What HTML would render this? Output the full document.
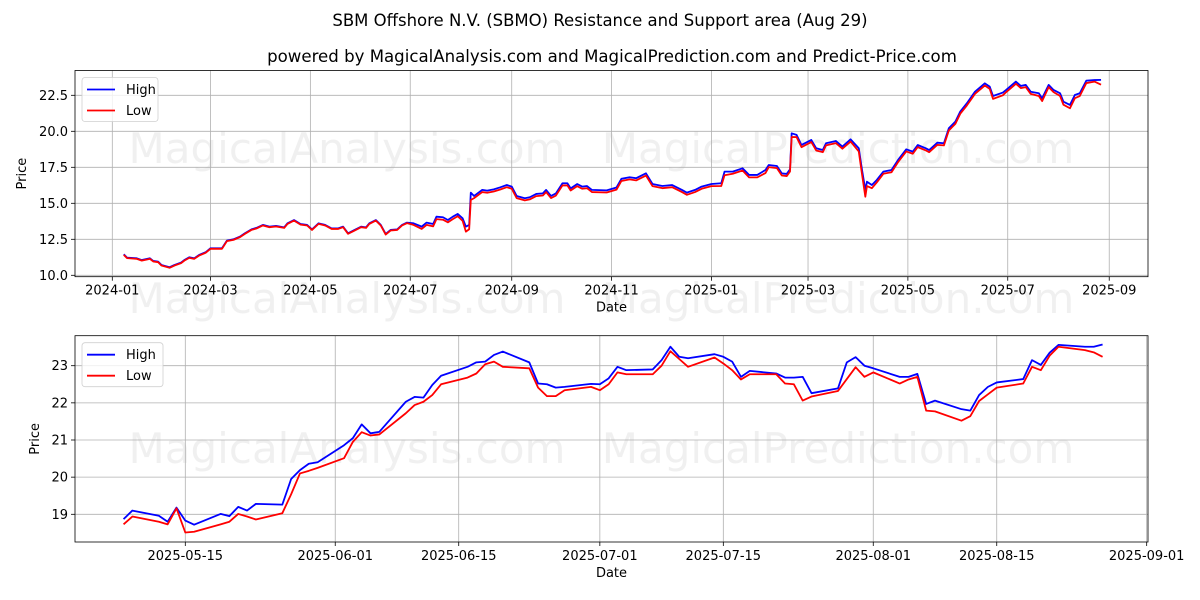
<!DOCTYPE html>
<html><head><meta charset="utf-8"><style>
html,body{margin:0;padding:0;background:#fff;}
svg{display:block;font-family:"DejaVu Sans","Liberation Sans",sans-serif;}
</style></head><body>
<svg id="chart" width="1200" height="600" viewBox="0 0 1200 600" xmlns="http://www.w3.org/2000/svg">
<rect width="1200" height="600" fill="#fff"/>
<text x="600" y="26" font-size="16.5" text-anchor="middle" fill="#000">SBM Offshore N.V. (SBMO) Resistance and Support area (Aug 29)</text>
<text x="612" y="62" font-size="16.6" text-anchor="middle" fill="#000">powered by MagicalAnalysis.com and MagicalPrediction.com and Predict-Price.com</text>
<g font-size="42" fill="#000" fill-opacity="0.06" text-anchor="middle">
<text x="347" y="163">MagicalAnalysis.com</text>
<text x="838" y="163">MagicalPrediction.com</text>
<text x="347" y="313">MagicalAnalysis.com</text>
<text x="838" y="313">MagicalPrediction.com</text>
<text x="347" y="463">MagicalAnalysis.com</text>
<text x="838" y="463">MagicalPrediction.com</text>
</g>
<g id="top"></g>
<g id="bottom"></g>
</svg>
<script>
// ---- Top chart data (full history) ----
const topDates = ["2024-01-08","2024-01-10","2024-01-16","2024-01-19","2024-01-24","2024-01-26","2024-01-29","2024-01-31","2024-02-05","2024-02-08","2024-02-12","2024-02-14","2024-02-17","2024-02-20","2024-02-23","2024-02-27","2024-03-01","2024-03-08","2024-03-11","2024-03-15","2024-03-19","2024-03-22","2024-03-26","2024-03-29","2024-04-02","2024-04-06","2024-04-10","2024-04-15","2024-04-17","2024-04-21","2024-04-25","2024-04-29","2024-05-02","2024-05-06","2024-05-10","2024-05-14","2024-05-18","2024-05-21","2024-05-24","2024-05-28","2024-06-01","2024-06-04","2024-06-06","2024-06-10","2024-06-13","2024-06-16","2024-06-19","2024-06-23","2024-06-26","2024-06-29","2024-07-03","2024-07-08","2024-07-11","2024-07-15","2024-07-17","2024-07-21","2024-07-24","2024-07-27","2024-07-30","2024-08-02","2024-08-04","2024-08-06","2024-08-07","2024-08-09","2024-08-14","2024-08-17","2024-08-21","2024-08-25","2024-08-29","2024-09-01","2024-09-04","2024-09-09","2024-09-12","2024-09-16","2024-09-20","2024-09-22","2024-09-25","2024-09-28","2024-10-02","2024-10-05","2024-10-07","2024-10-11","2024-10-14","2024-10-17","2024-10-20","2024-10-29","2024-11-04","2024-11-07","2024-11-12","2024-11-16","2024-11-22","2024-11-26","2024-12-02","2024-12-08","2024-12-14","2024-12-17","2024-12-22","2024-12-26","2025-01-01","2025-01-07","2025-01-09","2025-01-14","2025-01-20","2025-01-24","2025-01-29","2025-02-03","2025-02-05","2025-02-10","2025-02-13","2025-02-16","2025-02-18","2025-02-19","2025-02-22","2025-02-25","2025-03-03","2025-03-06","2025-03-10","2025-03-12","2025-03-18","2025-03-22","2025-03-27","2025-04-01","2025-04-03","2025-04-05","2025-04-06","2025-04-09","2025-04-12","2025-04-16","2025-04-21","2025-04-25","2025-04-30","2025-05-04","2025-05-07","2025-05-12","2025-05-14","2025-05-19","2025-05-23","2025-05-26","2025-05-30","2025-06-02","2025-06-06","2025-06-11","2025-06-17","2025-06-20","2025-06-22","2025-06-28","2025-06-30","2025-07-06","2025-07-09","2025-07-12","2025-07-15","2025-07-20","2025-07-22","2025-07-26","2025-07-29","2025-08-02","2025-08-04","2025-08-08","2025-08-11","2025-08-14","2025-08-18","2025-08-23","2025-08-27"];
const topHigh = [11.46,11.23,11.18,11.06,11.18,11.00,10.95,10.72,10.56,10.72,10.88,11.06,11.25,11.18,11.41,11.60,11.88,11.88,12.41,12.50,12.69,12.92,13.19,13.29,13.50,13.38,13.43,13.33,13.61,13.84,13.56,13.50,13.19,13.61,13.50,13.26,13.26,13.38,12.92,13.15,13.38,13.33,13.61,13.84,13.50,12.87,13.15,13.19,13.50,13.66,13.61,13.38,13.66,13.56,14.07,14.03,13.84,14.07,14.26,13.96,13.38,13.50,15.74,15.51,15.93,15.88,15.97,16.11,16.27,16.16,15.51,15.35,15.42,15.65,15.69,15.93,15.51,15.69,16.39,16.39,16.04,16.34,16.16,16.20,15.93,15.90,16.10,16.70,16.81,16.74,17.08,16.34,16.20,16.27,15.93,15.74,15.93,16.16,16.34,16.39,17.20,17.20,17.43,16.97,16.97,17.31,17.66,17.59,17.08,17.04,17.36,19.86,19.75,19.05,19.40,18.82,18.70,19.17,19.33,18.94,19.44,18.82,17.31,15.93,16.50,16.27,16.62,17.20,17.31,18.01,18.75,18.59,19.05,18.82,18.70,19.21,19.17,20.21,20.67,21.37,21.94,22.75,23.33,23.10,22.45,22.69,22.87,23.45,23.15,23.22,22.75,22.64,22.29,23.22,22.87,22.64,22.06,21.83,22.52,22.64,23.52,23.56,23.57];
const topLow = [11.42,11.19,11.14,11.02,11.14,10.96,10.91,10.68,10.52,10.68,10.84,11.02,11.21,11.14,11.37,11.56,11.84,11.84,12.37,12.46,12.65,12.88,13.15,13.25,13.46,13.34,13.39,13.29,13.57,13.80,13.52,13.46,13.15,13.57,13.46,13.22,13.22,13.34,12.88,13.11,13.34,13.29,13.57,13.80,13.46,12.83,13.11,13.15,13.46,13.62,13.50,13.22,13.50,13.40,13.90,13.86,13.68,13.90,14.10,13.78,13.03,13.20,15.23,15.36,15.78,15.73,15.82,15.96,16.12,16.01,15.36,15.20,15.27,15.50,15.54,15.78,15.36,15.54,16.24,16.24,15.89,16.19,16.01,16.05,15.78,15.75,15.95,16.55,16.66,16.59,16.93,16.19,16.05,16.12,15.78,15.59,15.78,16.01,16.19,16.20,16.95,17.05,17.28,16.80,16.80,17.10,17.51,17.44,16.93,16.89,17.21,19.60,19.60,18.90,19.25,18.67,18.55,19.02,19.18,18.79,19.29,18.60,17.00,15.46,16.20,16.05,16.45,17.05,17.16,17.86,18.60,18.44,18.90,18.67,18.55,19.06,19.02,20.06,20.52,21.22,21.79,22.60,23.18,22.95,22.25,22.50,22.72,23.30,23.00,23.07,22.60,22.45,22.10,23.07,22.72,22.45,21.85,21.60,22.30,22.45,23.35,23.45,23.24];
const topXTicks = ["2024-01-01","2024-03-01","2024-05-01","2024-07-01","2024-09-01","2024-11-01","2025-01-01","2025-03-01","2025-05-01","2025-07-01","2025-09-01"];
const topXTickLabels = ["2024-01","2024-03","2024-05","2024-07","2024-09","2024-11","2025-01","2025-03","2025-05","2025-07","2025-09"];
const topYTicks = [10.0,12.5,15.0,17.5,20.0,22.5];
const topYTickLabels = ["10.0","12.5","15.0","17.5","20.0","22.5"];

// ---- Bottom chart data (recent) ----
const botDates = ["2025-05-08","2025-05-09","2025-05-12","2025-05-13","2025-05-14","2025-05-15","2025-05-16","2025-05-19","2025-05-20","2025-05-21","2025-05-22","2025-05-23","2025-05-26","2025-05-27","2025-05-28","2025-05-29","2025-05-30","2025-06-02","2025-06-03","2025-06-04","2025-06-05","2025-06-06","2025-06-09","2025-06-10","2025-06-11","2025-06-12","2025-06-13","2025-06-16","2025-06-17","2025-06-18","2025-06-19","2025-06-20","2025-06-23","2025-06-24","2025-06-25","2025-06-26","2025-06-27","2025-06-30","2025-07-01","2025-07-02","2025-07-03","2025-07-04","2025-07-07","2025-07-08","2025-07-09","2025-07-10","2025-07-11","2025-07-14","2025-07-15","2025-07-16","2025-07-17","2025-07-18","2025-07-21","2025-07-22","2025-07-23","2025-07-24","2025-07-25","2025-07-28","2025-07-29","2025-07-30","2025-07-31","2025-08-01","2025-08-04","2025-08-05","2025-08-06","2025-08-07","2025-08-08","2025-08-11","2025-08-12","2025-08-13","2025-08-14","2025-08-15","2025-08-18","2025-08-19","2025-08-20","2025-08-21","2025-08-22","2025-08-25","2025-08-26","2025-08-27"];
const botHigh = [18.87,19.10,18.96,18.80,19.18,18.83,18.72,19.01,18.95,19.20,19.10,19.28,19.26,19.95,20.19,20.36,20.40,20.86,21.05,21.42,21.18,21.22,22.03,22.16,22.14,22.48,22.73,22.97,23.09,23.11,23.29,23.38,23.09,22.52,22.50,22.41,22.43,22.51,22.50,22.66,22.97,22.88,22.90,23.15,23.51,23.24,23.20,23.31,23.24,23.11,22.70,22.86,22.79,22.68,22.68,22.70,22.26,22.39,23.09,23.23,23.00,22.93,22.70,22.70,22.78,21.97,22.06,21.83,21.79,22.21,22.43,22.55,22.64,23.15,23.02,23.35,23.56,23.51,23.51,23.57];
const botLow = [18.73,18.94,18.80,18.73,19.16,18.51,18.53,18.73,18.80,19.01,18.94,18.86,19.03,19.54,20.10,20.17,20.25,20.51,20.95,21.21,21.12,21.15,21.72,21.94,22.03,22.21,22.50,22.68,22.79,23.04,23.11,22.97,22.93,22.41,22.18,22.18,22.34,22.43,22.34,22.50,22.82,22.77,22.77,23.00,23.39,23.18,22.97,23.22,23.06,22.88,22.63,22.77,22.77,22.52,22.50,22.06,22.17,22.32,22.64,22.96,22.70,22.82,22.52,22.63,22.70,21.79,21.77,21.52,21.64,22.05,22.23,22.41,22.52,22.97,22.88,23.27,23.51,23.42,23.36,23.24];
const botXTicks = ["2025-05-15","2025-06-01","2025-06-15","2025-07-01","2025-07-15","2025-08-01","2025-08-15","2025-09-01"];
const botYTicks = [19,20,21,22,23];
const botYTickLabels = ["19","20","21","22","23"];

const NS = "http://www.w3.org/2000/svg";
function el(tag, attrs, parent) {
  const e = document.createElementNS(NS, tag);
  for (const k in attrs) e.setAttribute(k, attrs[k]);
  parent.appendChild(e);
  return e;
}
function dayNum(s) { return Date.parse(s + "T00:00:00Z") / 86400000; }

function drawChart(g, cfg) {
  const {left, right, top, bottom, x0Date, x0px, pxPerDay, yRef, yRefPx, pxPerUnit} = cfg;
  const xs = d => x0px + (dayNum(d) - dayNum(x0Date)) * pxPerDay;
  const ys = v => yRefPx - (v - yRef) * pxPerUnit;
  cfg.xTicks.forEach((t, i) => {
    const x = xs(t);
    const gl = el("line", {x1: x, x2: x, y1: top, y2: bottom, stroke: "#b0b0b0", "stroke-width": 0.8}, g);
    
    
    const tk = el("line", {x1: x, x2: x, y1: bottom, y2: bottom + 4, stroke: "#000", "stroke-width": 0.8}, g);
    
    
    const tl = el("text", {x: x, y: bottom + 18, "font-size": 13, "text-anchor": "middle", fill: "#000"}, g);
    tl.textContent = cfg.xTickLabels[i];
    
    
  });
  cfg.yTicks.forEach((t, i) => {
    const y = ys(t);
    const gl = el("line", {x1: left, x2: right, y1: y, y2: y, stroke: "#b0b0b0", "stroke-width": 0.8}, g);
    
    
    const tk = el("line", {x1: left - 4, x2: left, y1: y, y2: y, stroke: "#000", "stroke-width": 0.8}, g);
    
    
    const tl = el("text", {x: left - 7, y: y + 4.5, "font-size": 13, "text-anchor": "end", fill: "#000"}, g);
    tl.textContent = cfg.yTickLabels[i];
    
    
  });
  const clipId = cfg.id + "-clip";
  const defs = el("defs", {}, g);
  const cp = el("clipPath", {id: clipId}, defs);
  el("rect", {x: left, y: top, width: right - left, height: bottom - top}, cp);
  const mk = (vals, color, name) => {
    const d = cfg.dates.map((dt, i) => (i ? "L" : "M") + xs(dt).toFixed(2) + "," + ys(vals[i]).toFixed(2)).join("");
    const p = el("path", {d: d, fill: "none", stroke: color, "stroke-width": 1.8, "stroke-linejoin": "round", "clip-path": "url(#" + clipId + ")"}, g);
    
    
  };
  mk(cfg.high, "#0000ff", "high-line");
  mk(cfg.low, "#ff0000", "low-line");
  const fr = el("rect", {x: left, y: top, width: right - left, height: bottom - top, fill: "none", stroke: "#000", "stroke-width": 0.8}, g);
  
  
  const xl = el("text", {x: (left + right) / 2, y: bottom + 35, "font-size": 13, "text-anchor": "middle", fill: "#000"}, g);
  xl.textContent = "Date";
  
  
  const cy = (top + bottom) / 2;
  const yl = el("text", {x: cfg.yLabelX, y: cy, "font-size": 13, "text-anchor": "middle", fill: "#000", transform: "rotate(-90 " + cfg.yLabelX + " " + cy + ")"}, g);
  yl.textContent = "Price";
  
  
  const lg = el("g", {}, g);
  
  
  const lx = left + 7, ly = top + 7;
  el("rect", {x: lx, y: ly, width: cfg.legendW, height: 44, rx: 3, fill: "#fff", "fill-opacity": 0.8, stroke: "#d0d0d0", "stroke-width": 0.8}, lg);
  [["High", "#0000ff", "legend-entry-high"], ["Low", "#ff0000", "legend-entry-low"]].forEach((e, i) => {
    const eg = el("g", {}, lg);
    
    
    const yy = ly + 12 + i * 21;
    el("line", {x1: lx + 5, x2: lx + 33, y1: yy, y2: yy, stroke: e[1], "stroke-width": 1.8}, eg);
    const t = el("text", {x: lx + 44, y: yy + 4.5, "font-size": 13, fill: "#000"}, eg);
    t.textContent = e[0];
  });
}

drawChart(document.getElementById("top"), {
  id: "top", left: 75, right: 1148, top: 70.5, bottom: 276.7,
  x0Date: "2024-01-01", x0px: 112.3, pxPerDay: 1.637,
  yRef: 10, yRefPx: 275.3, pxPerUnit: 14.4,
  dates: topDates, high: topHigh, low: topLow,
  xTicks: topXTicks, xTickLabels: topXTickLabels,
  yTicks: topYTicks, yTickLabels: topYTickLabels,
  yLabelX: 26, legendW: 76
});
drawChart(document.getElementById("bottom"), {
  id: "bot", left: 75, right: 1148, top: 335.7, bottom: 542,
  x0Date: "2025-05-15", x0px: 185.3, pxPerDay: 8.82,
  yRef: 19, yRefPx: 514.3, pxPerUnit: 37.15,
  dates: botDates, high: botHigh, low: botLow,
  xTicks: botXTicks, xTickLabels: botXTicks,
  yTicks: botYTicks, yTickLabels: botYTickLabels,
  yLabelX: 39, legendW: 81
});
</script>
</body></html>
